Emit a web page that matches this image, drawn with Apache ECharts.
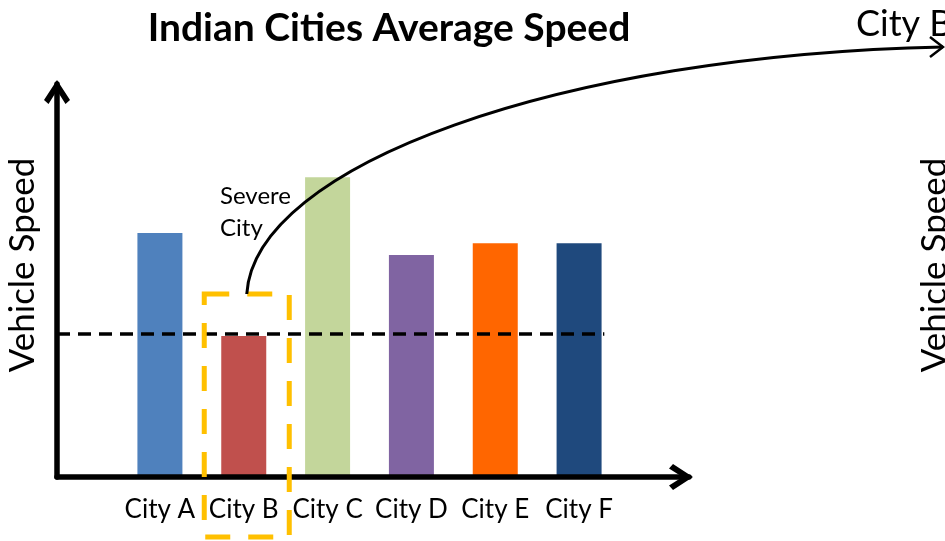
<!DOCTYPE html>
<html><head><meta charset="utf-8">
<script src="https://cdn.jsdelivr.net/npm/echarts@6/dist/echarts.min.js"></script>
<style>html,body{margin:0;padding:0;background:#fff}#c{width:945px;height:541px}</style>
</head><body><div id="c"></div>
<script>
const categories = ['City A', 'City B', 'City C', 'City D', 'City E', 'City F'];
const speeds = [62.1, 35.9, 76.3, 56.5, 59.5, 59.5];
const barColors = ['#4F81BD', '#C0504D', '#C3D69B', '#8064A2', '#FF6600', '#1F497D'];
const averageSpeed = 36.4;
const highlightCity = 'City B';
const titleText = 'Indian Cities Average Speed';
const axisTitle = 'Vehicle Speed';
const calloutText = 'Severe\nCity';
const targetText = 'City B';

const FONT = 'Lato';
const chart = echarts.init(document.getElementById('c'));
const chevron = 'path://M13,0 L26,20 L21.5,24 L13,10.5 L4.5,24 L0,20 Z';

chart.setOption({
  animation: false,
  title: {
    text: titleText, left: 384, textAlign: 'center', top: 4,
    textStyle: {fontFamily: FONT, fontWeight: 'bold', fontSize: 39, color: '#000'}
  },
  grid: [
    {left: 118, top: 84, width: 503, height: 393},
    {left: 57, top: 84, width: 632, height: 393}
  ],
  xAxis: [
    {type: 'category', gridIndex: 0, data: categories,
     axisLine: {show: false}, axisTick: {show: false},
     axisLabel: {fontFamily: FONT, fontSize: 26, color: '#000', margin: 20, interval: 0, hideOverlap: false}},
    {type: 'value', gridIndex: 1, min: 0, max: 100, z: 10,
     axisLabel: {show: false}, axisTick: {show: false}, splitLine: {show: false},
     axisLine: {show: true, symbol: ['none', chevron], symbolSize: [30, 24], symbolOffset: [0, -8],
       lineStyle: {color: '#000', width: 5.5}}}
  ],
  yAxis: [
    {type: 'value', gridIndex: 0, min: 0, max: 100, show: false},
    {type: 'value', gridIndex: 1, min: 0, max: 100, z: 10,
     axisLabel: {show: false}, axisTick: {show: false}, splitLine: {show: false},
     axisLine: {show: true, symbol: ['none', chevron], symbolSize: [26, 24], symbolOffset: [0, -8],
       lineStyle: {color: '#000', width: 5.5}}}
  ],
  series: [
    {type: 'bar', xAxisIndex: 0, yAxisIndex: 0, barWidth: 45,
     data: speeds.map((v, i) => ({value: v, itemStyle: {color: barColors[i]}}))},
    {type: 'line', xAxisIndex: 1, yAxisIndex: 1, symbol: 'none', z: 5,
     lineStyle: {color: '#000', width: 3.5, type: [13, 8]},
     data: [[0, averageSpeed], [86.6, averageSpeed]]}
  ]
});

const cx = chart.convertToPixel({xAxisIndex: 0}, highlightCity) + 3;
const rectTop = 294, rectW = 85, rectBottom = 537;
chart.setOption({
  graphic: [
    {type: 'rect', shape: {x: cx - rectW / 2, y: rectTop, width: rectW, height: rectBottom - rectTop},
     style: {fill: 'none', stroke: '#FFC000', lineWidth: 5, lineDash: [25, 18]}, z: 20},
    {type: 'bezierCurve', shape: {x1: cx, y1: rectTop, cpx1: cx + 8, cpy1: 165, cpx2: 560, cpy2: 55, x2: 943, y2: 47},
     style: {fill: 'none', stroke: '#000', lineWidth: 3}, z: 20},
    {type: 'polyline', shape: {points: [[930, 37], [943, 47], [930, 57]]},
     style: {fill: 'none', stroke: '#000', lineWidth: 2.5}, z: 20},
    {type: 'text', x: 220, y: 180, z: 20,
     style: {text: calloutText, font: '24px ' + FONT, fill: '#000', lineHeight: 32}},
    {type: 'text', x: 856, y: 6, z: 20,
     style: {text: targetText, font: '36px ' + FONT, fill: '#000'}},
    {type: 'text', x: 23, y: 265, rotation: Math.PI / 2, z: 20,
     style: {text: axisTitle, font: '35px ' + FONT, fill: '#000', align: 'center', verticalAlign: 'middle'}},
    {type: 'text', x: 935, y: 265, rotation: Math.PI / 2, z: 20,
     style: {text: axisTitle, font: '35px ' + FONT, fill: '#000', align: 'center', verticalAlign: 'middle'}}
  ]
});
</script></body></html>
